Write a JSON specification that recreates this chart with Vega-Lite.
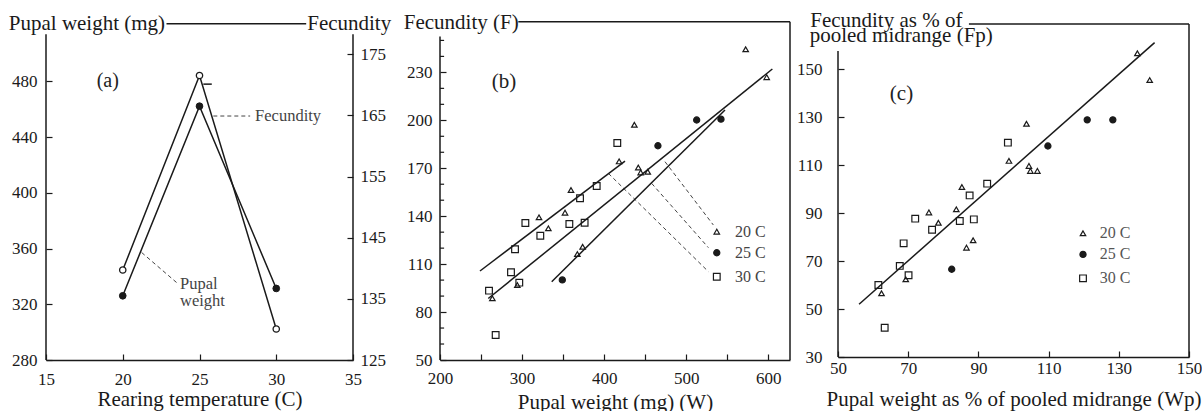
{
  "$schema": "https://vega.github.io/schema/vega-lite/v6.json",
  "background": "white",
  "padding": {"left": 8, "top": 9, "right": 0, "bottom": 0},
  "spacing": 87,
  "bounds": "flush",
  "config": {
    "font": "Liberation Serif",
    "view": {"stroke": null},
    "axis": {
      "grid": false,
      "labelFont": "Liberation Serif",
      "titleFont": "Liberation Serif",
      "labelFontSize": 17,
      "titleFontSize": 21,
      "titleFontWeight": "normal",
      "labelColor": "#1a1a1a",
      "titleColor": "#1a1a1a",
      "domainColor": "#1a1a1a",
      "tickColor": "#1a1a1a",
      "domainWidth": 1.5,
      "tickWidth": 1.2,
      "tickSize": -6,
      "labelOverlap": false,
      "labelFlush": false,
      "labelBound": false
    },
    "text": {"font": "Liberation Serif"}
  },
  "datasets": {
    "a_pts": [
      {"temperature": 20, "pupal_weight": 344.6, "fecundity": 135.5},
      {"temperature": 25, "pupal_weight": 484.3, "fecundity": 166.5},
      {"temperature": 30, "pupal_weight": 302.3, "fecundity": 136.7}
    ],
    "a_frame": [
      {"x": 15, "y": 280, "x2": 15, "y2": 514},
      {"x": 35, "y": 280, "x2": 35, "y2": 514},
      {"x": 22.85, "y": 521.5, "x2": 31.95, "y2": 521.5},
      {"x": 25.25, "y": 478.1, "x2": 25.8, "y2": 478.1}
    ],
    "a_leaders": [
      {"x": 25.9, "y": 455.2, "x2": 28.3, "y2": 455.2},
      {"x": 21.23, "y": 357.2, "x2": 23.51, "y2": 335.6}
    ],
    "a_notes": [
      {"x": 28.62, "y": 455.2, "label": "Fecundity"},
      {"x": 23.73, "y": 334.3, "label": "Pupal"},
      {"x": 23.73, "y": 322.4, "label": "weight"}
    ],
    "a_tag": [{"x": 18.3, "y": 480.7, "label": "(a)"}],
    "b_frame": [
      {"x": 200, "y": 50, "x2": 200, "y2": 252.5},
      {"x": 626.4, "y": 50, "x2": 626.4, "y2": 261.7},
      {"x": 295.4, "y": 261.7, "x2": 626.4, "y2": 261.7}
    ],
    "b_minor_ticks": [
      {"fecundity": 60}, {"fecundity": 70}, {"fecundity": 90}, {"fecundity": 100},
      {"fecundity": 120}, {"fecundity": 130}, {"fecundity": 150}, {"fecundity": 160},
      {"fecundity": 180}, {"fecundity": 190}, {"fecundity": 210}, {"fecundity": 220},
      {"fecundity": 240}, {"fecundity": 250}
    ],
    "b_leaders": [
      {"x": 474.1, "y": 174.1, "x2": 533.0, "y2": 134.5},
      {"x": 457.9, "y": 160.5, "x2": 527.0, "y2": 120.3},
      {"x": 405.1, "y": 166.8, "x2": 527.0, "y2": 105.3}
    ],
    "b_fit": [
      {"group": "20 C", "weight": 258.8, "fecundity": 88.5},
      {"group": "20 C", "weight": 604.9, "fecundity": 232.1},
      {"group": "25 C", "weight": 336.1, "fecundity": 99.0},
      {"group": "25 C", "weight": 547.2, "fecundity": 206.4},
      {"group": "30 C", "weight": 248.7, "fecundity": 105.7},
      {"group": "30 C", "weight": 425.4, "fecundity": 174.5}
    ],
    "b_pts": [
      {"group": "20 C", "weight": 572.4, "fecundity": 244.5},
      {"group": "20 C", "weight": 598.0, "fecundity": 227.0},
      {"group": "20 C", "weight": 436.8, "fecundity": 197.2},
      {"group": "20 C", "weight": 418.2, "fecundity": 174.3},
      {"group": "20 C", "weight": 441.6, "fecundity": 170.5},
      {"group": "20 C", "weight": 444.5, "fecundity": 167.4},
      {"group": "20 C", "weight": 453.1, "fecundity": 167.8},
      {"group": "20 C", "weight": 359.6, "fecundity": 156.4},
      {"group": "20 C", "weight": 352.3, "fecundity": 142.2},
      {"group": "20 C", "weight": 320.6, "fecundity": 139.3},
      {"group": "20 C", "weight": 332.0, "fecundity": 132.4},
      {"group": "20 C", "weight": 373.8, "fecundity": 120.9},
      {"group": "20 C", "weight": 367.3, "fecundity": 116.3},
      {"group": "20 C", "weight": 263.8, "fecundity": 88.6},
      {"group": "20 C", "weight": 294.2, "fecundity": 96.9},
      {"group": "25 C", "weight": 349.0, "fecundity": 100.1},
      {"group": "25 C", "weight": 465.5, "fecundity": 184.1},
      {"group": "25 C", "weight": 512.7, "fecundity": 200.2},
      {"group": "25 C", "weight": 542.3, "fecundity": 200.7},
      {"group": "30 C", "weight": 259.7, "fecundity": 93.4},
      {"group": "30 C", "weight": 267.8, "fecundity": 65.6},
      {"group": "30 C", "weight": 286.5, "fecundity": 104.9},
      {"group": "30 C", "weight": 291.4, "fecundity": 119.3},
      {"group": "30 C", "weight": 296.6, "fecundity": 98.4},
      {"group": "30 C", "weight": 304.0, "fecundity": 135.7},
      {"group": "30 C", "weight": 322.2, "fecundity": 127.8},
      {"group": "30 C", "weight": 357.6, "fecundity": 135.1},
      {"group": "30 C", "weight": 370.6, "fecundity": 151.2},
      {"group": "30 C", "weight": 376.2, "fecundity": 135.9},
      {"group": "30 C", "weight": 390.9, "fecundity": 158.9},
      {"group": "30 C", "weight": 416.0, "fecundity": 185.8}
    ],
    "b_legend": [
      {"group": "20 C", "weight": 537.2, "fecundity": 130.3, "text_x": 559.4},
      {"group": "25 C", "weight": 537.2, "fecundity": 117.1, "text_x": 559.4},
      {"group": "30 C", "weight": 537.2, "fecundity": 102.1, "text_x": 559.4}
    ],
    "b_tag": [{"x": 278, "y": 224.2, "label": "(b)"}],
    "c_frame": [
      {"x": 50, "y": 30, "x2": 50, "y2": 157.6},
      {"x": 150, "y": 30, "x2": 150, "y2": 168.9},
      {"x": 87.3, "y": 168.9, "x2": 150, "y2": 168.9}
    ],
    "c_title2": [{"x": 41.94, "y": 163.9, "label": "pooled midrange (Fp)"}],
    "c_fit": [
      {"wp": 56.0, "fp": 52.0},
      {"wp": 140.2, "fp": 161.1}
    ],
    "c_pts": [
      {"group": "20 C", "wp": 135.3, "fp": 156.7},
      {"group": "20 C", "wp": 138.8, "fp": 145.5},
      {"group": "20 C", "wp": 103.7, "fp": 127.3},
      {"group": "20 C", "wp": 98.7, "fp": 111.8},
      {"group": "20 C", "wp": 104.4, "fp": 109.7},
      {"group": "20 C", "wp": 104.8, "fp": 107.6},
      {"group": "20 C", "wp": 106.8, "fp": 107.6},
      {"group": "20 C", "wp": 85.3, "fp": 100.9},
      {"group": "20 C", "wp": 83.7, "fp": 91.6},
      {"group": "20 C", "wp": 75.9, "fp": 90.3},
      {"group": "20 C", "wp": 78.6, "fp": 86.0},
      {"group": "20 C", "wp": 88.5, "fp": 78.7},
      {"group": "20 C", "wp": 86.6, "fp": 75.6},
      {"group": "20 C", "wp": 69.3, "fp": 62.4},
      {"group": "20 C", "wp": 62.4, "fp": 56.6},
      {"group": "25 C", "wp": 82.4, "fp": 66.6},
      {"group": "25 C", "wp": 109.8, "fp": 118.0},
      {"group": "25 C", "wp": 121.0, "fp": 128.9},
      {"group": "25 C", "wp": 128.3, "fp": 128.9},
      {"group": "30 C", "wp": 63.3, "fp": 42.2},
      {"group": "30 C", "wp": 61.5, "fp": 60.0},
      {"group": "30 C", "wp": 67.6, "fp": 68.0},
      {"group": "30 C", "wp": 70.1, "fp": 64.1},
      {"group": "30 C", "wp": 68.7, "fp": 77.4},
      {"group": "30 C", "wp": 72.0, "fp": 87.7},
      {"group": "30 C", "wp": 76.8, "fp": 83.1},
      {"group": "30 C", "wp": 84.7, "fp": 86.7},
      {"group": "30 C", "wp": 87.5, "fp": 97.4},
      {"group": "30 C", "wp": 88.7, "fp": 87.4},
      {"group": "30 C", "wp": 92.5, "fp": 102.3},
      {"group": "30 C", "wp": 98.4, "fp": 119.4}
    ],
    "c_legend": [
      {"group": "20 C", "wp": 119.8, "fp": 81.6, "text_x": 124.6},
      {"group": "25 C", "wp": 119.8, "fp": 72.8, "text_x": 124.6},
      {"group": "30 C", "wp": 119.8, "fp": 62.8, "text_x": 124.6}
    ],
    "c_tag": [{"x": 68.1, "y": 139.6, "label": "(c)"}]
  },
  "hconcat": [
    {
      "width": 307,
      "height": 337,
      "resolve": {"scale": {"y": "independent"}},
      "layer": [
        {
          "layer": [
            {
              "data": {"name": "a_frame"},
              "mark": {"type": "rule", "color": "#1a1a1a", "strokeWidth": 1.5},
              "encoding": {
                "x": {"field": "x", "type": "quantitative", "scale": {"domain": [15, 35], "nice": false, "zero": false},
                  "axis": {"labelOverlap": false, "labelFlush": false, "values": [15, 17.5, 20, 22.5, 25, 27.5, 30, 32.5, 35], "labelExpr": "datum.value % 5 === 0 ? datum.label : ''", "labelFontSize": {"condition": {"test": "datum.value % 5 === 0", "value": 17}, "value": 1}, "title": "Rearing temperature (C)", "titleY": 39.3, "titleBaseline": "middle", "labelPadding": 17.5}},
                "y": {"field": "y", "type": "quantitative", "scale": {"domain": [280, 522], "nice": false, "zero": false},
                  "axis": {"labelOverlap": false, "orient": "left", "domain": false, "values": [280, 300, 320, 340, 360, 380, 400, 420, 440, 460, 480, 500], "labelExpr": "(datum.value - 280) % 40 === 0 ? datum.label : ''", "labelFontSize": {"condition": {"test": "(datum.value - 280) % 40 === 0", "value": 17}, "value": 1}, "title": "Pupal weight (mg)", "titleAngle": 0, "titleAlign": "left", "titleBaseline": "middle", "titleX": -37.7, "titleY": 0.5, "labelPadding": 15}},
                "x2": {"field": "x2"},
                "y2": {"field": "y2"}
              }
            },
            {
              "data": {"name": "a_leaders"},
              "mark": {"type": "rule", "color": "#444", "strokeWidth": 1, "strokeDash": [4, 3]},
              "encoding": {
                "x": {"field": "x", "type": "quantitative", "scale": {"domain": [15, 35]}},
                "y": {"field": "y", "type": "quantitative", "scale": {"domain": [280, 522]}},
                "x2": {"field": "x2"},
                "y2": {"field": "y2"}
              }
            },
            {
              "data": {"name": "a_notes"},
              "mark": {"type": "text", "align": "left", "baseline": "middle", "fontSize": 16.5, "color": "#444"},
              "encoding": {
                "x": {"field": "x", "type": "quantitative", "scale": {"domain": [15, 35]}},
                "y": {"field": "y", "type": "quantitative", "scale": {"domain": [280, 522]}},
                "text": {"field": "label"}
              }
            },
            {
              "data": {"name": "a_tag"},
              "mark": {"type": "text", "align": "left", "baseline": "middle", "fontSize": 20, "color": "#222"},
              "encoding": {
                "x": {"field": "x", "type": "quantitative", "scale": {"domain": [15, 35]}},
                "y": {"field": "y", "type": "quantitative", "scale": {"domain": [280, 522]}},
                "text": {"field": "label"}
              }
            },
            {
              "data": {"name": "a_pts"},
              "mark": {"type": "line", "color": "#1a1a1a", "strokeWidth": 1.5},
              "encoding": {
                "x": {"field": "temperature", "type": "quantitative", "scale": {"domain": [15, 35]}},
                "y": {"field": "pupal_weight", "type": "quantitative", "scale": {"domain": [280, 522]}}
              }
            },
            {
              "data": {"name": "a_pts"},
              "mark": {"type": "point", "shape": "circle", "filled": true, "fill": "white", "stroke": "#1a1a1a", "strokeWidth": 1.3, "size": 40, "opacity": 1},
              "encoding": {
                "x": {"field": "temperature", "type": "quantitative", "scale": {"domain": [15, 35]}},
                "y": {"field": "pupal_weight", "type": "quantitative", "scale": {"domain": [280, 522]}}
              }
            }
          ]
        },
        {
          "layer": [
            {
              "data": {"name": "a_pts"},
              "mark": {"type": "line", "color": "#1a1a1a", "strokeWidth": 1.5},
              "encoding": {
                "x": {"field": "temperature", "type": "quantitative", "scale": {"domain": [15, 35]}},
                "y": {"field": "fecundity", "type": "quantitative", "scale": {"domain": [125, 180.1], "nice": false, "zero": false},
                  "axis": {"labelOverlap": false, "orient": "right", "domain": false, "values": [125, 130, 135, 140, 145, 150, 155, 160, 165, 170, 175], "labelExpr": "(datum.value - 125) % 10 === 0 ? datum.label : ''", "labelFontSize": {"condition": {"test": "(datum.value - 125) % 10 === 0", "value": 17}, "value": 1}, "title": "Fecundity", "titleAngle": 0, "titleAlign": "left", "titleBaseline": "middle", "titleX": -46.3, "titleY": 0.5, "labelPadding": 13}}
              }
            },
            {
              "data": {"name": "a_pts"},
              "mark": {"type": "point", "shape": "circle", "filled": true, "fill": "#1a1a1a", "stroke": "#1a1a1a", "strokeWidth": 1, "size": 45, "opacity": 1},
              "encoding": {
                "x": {"field": "temperature", "type": "quantitative", "scale": {"domain": [15, 35]}},
                "y": {"field": "fecundity", "type": "quantitative", "scale": {"domain": [125, 180.1], "nice": false, "zero": false}}
              }
            }
          ]
        }
      ]
    },
    {
      "spacing": 48,
      "bounds": "flush",
      "hconcat": [
        {
          "width": 350,
          "height": 337,
          "layer": [
            {
              "data": {"name": "b_frame"},
              "mark": {"type": "rule", "color": "#1a1a1a", "strokeWidth": 1.5},
              "encoding": {
                "x": {"field": "x", "type": "quantitative", "scale": {"domain": [200, 626.4], "nice": false, "zero": false},
                  "axis": {"labelOverlap": false, "labelFlush": false, "values": [200, 250, 300, 350, 400, 450, 500, 550, 600], "labelExpr": "datum.value % 100 === 0 ? datum.label : ''", "labelFontSize": {"condition": {"test": "datum.value % 100 === 0", "value": 17}, "value": 1}, "title": "Pupal weight (mg) (W)", "titleY": 42, "titleBaseline": "middle", "labelPadding": 16}},
                "y": {"field": "y", "type": "quantitative", "scale": {"domain": [50, 260.9], "nice": false, "zero": false},
                  "axis": {"labelOverlap": false, "orient": "left", "domain": false, "values": [50, 80, 110, 140, 170, 200, 230], "title": "Fecundity (F)", "titleAngle": 0, "titleAlign": "left", "titleBaseline": "middle", "titleX": -36.7, "titleY": -0.5, "labelPadding": 14}},
                "x2": {"field": "x2"},
                "y2": {"field": "y2"}
              }
            },
            {
              "data": {"name": "b_minor_ticks"},
              "mark": {"type": "rule", "color": "#1a1a1a", "strokeWidth": 1.2},
              "encoding": {
                "x": {"datum": 200, "type": "quantitative"},
                "x2": {"datum": 205},
                "y": {"field": "fecundity", "type": "quantitative"}
              }
            },
            {
              "data": {"name": "b_leaders"},
              "mark": {"type": "rule", "color": "#444", "strokeWidth": 1, "strokeDash": [4, 3]},
              "encoding": {
                "x": {"field": "x", "type": "quantitative"},
                "y": {"field": "y", "type": "quantitative"},
                "x2": {"field": "x2"},
                "y2": {"field": "y2"}
              }
            },
            {
              "data": {"name": "b_fit"},
              "mark": {"type": "line", "color": "#1a1a1a", "strokeWidth": 1.5},
              "encoding": {
                "x": {"field": "weight", "type": "quantitative"},
                "y": {"field": "fecundity", "type": "quantitative"},
                "detail": {"field": "group"}
              }
            },
            {
              "data": {"name": "b_pts"},
              "mark": {"type": "point", "filled": true, "stroke": "#1a1a1a", "strokeWidth": 1.2, "opacity": 1},
              "encoding": {
                "x": {"field": "weight", "type": "quantitative"},
                "y": {"field": "fecundity", "type": "quantitative"},
                "shape": {"field": "group", "type": "nominal", "scale": {"domain": ["20 C", "25 C", "30 C"], "range": ["triangle-up", "circle", "square"]}, "legend": null},
                "fill": {"field": "group", "type": "nominal", "scale": {"domain": ["20 C", "25 C", "30 C"], "range": ["transparent", "#1a1a1a", "transparent"]}, "legend": null},
                "size": {"field": "group", "type": "nominal", "scale": {"domain": ["20 C", "25 C", "30 C"], "range": [30, 45, 45]}, "legend": null}
              }
            },
            {
              "data": {"name": "b_legend"},
              "mark": {"type": "point", "filled": true, "stroke": "#1a1a1a", "strokeWidth": 1.2, "opacity": 1},
              "encoding": {
                "x": {"field": "weight", "type": "quantitative"},
                "y": {"field": "fecundity", "type": "quantitative"},
                "shape": {"field": "group", "type": "nominal", "scale": {"domain": ["20 C", "25 C", "30 C"], "range": ["triangle-up", "circle", "square"]}, "legend": null},
                "fill": {"field": "group", "type": "nominal", "scale": {"domain": ["20 C", "25 C", "30 C"], "range": ["transparent", "#1a1a1a", "transparent"]}, "legend": null},
                "size": {"field": "group", "type": "nominal", "scale": {"domain": ["20 C", "25 C", "30 C"], "range": [30, 45, 45]}, "legend": null}
              }
            },
            {
              "data": {"name": "b_legend"},
              "mark": {"type": "text", "align": "left", "baseline": "middle", "fontSize": 16, "color": "#444"},
              "encoding": {
                "x": {"field": "text_x", "type": "quantitative"},
                "y": {"field": "fecundity", "type": "quantitative"},
                "text": {"field": "group"}
              }
            },
            {
              "data": {"name": "b_tag"},
              "mark": {"type": "text", "align": "center", "baseline": "middle", "fontSize": 21, "color": "#222"},
              "encoding": {
                "x": {"field": "x", "type": "quantitative"},
                "y": {"field": "y", "type": "quantitative"},
                "text": {"field": "label"}
              }
            }
          ]
        },
        {
          "width": 351,
          "height": 334,
          "layer": [
            {
              "data": {"name": "c_frame"},
              "mark": {"type": "rule", "color": "#1a1a1a", "strokeWidth": 1.5},
              "encoding": {
                "x": {"field": "x", "type": "quantitative", "scale": {"domain": [50, 150], "nice": false, "zero": false},
                  "axis": {"labelOverlap": false, "labelFlush": false, "values": [50, 60, 70, 80, 90, 100, 110, 120, 130, 140, 150], "labelExpr": "(datum.value - 50) % 20 === 0 ? datum.label : ''", "labelFontSize": {"condition": {"test": "(datum.value - 50) % 20 === 0", "value": 17}, "value": 1}, "title": "Pupal weight as % of pooled midrange (Wp)", "titleY": 42.3, "titleBaseline": "middle", "labelPadding": 9}},
                "y": {"field": "y", "type": "quantitative", "scale": {"domain": [30, 169.3], "nice": false, "zero": false},
                  "axis": {"labelOverlap": false, "orient": "left", "domain": false, "values": [30, 40, 50, 60, 70, 80, 90, 100, 110, 120, 130, 140, 150], "labelExpr": "(datum.value - 30) % 20 === 0 ? datum.label : ''", "labelFontSize": {"condition": {"test": "(datum.value - 30) % 20 === 0", "value": 17}, "value": 1}, "title": "Fecundity as % of", "titleAngle": 0, "titleAlign": "left", "titleBaseline": "middle", "titleX": -28.3, "titleY": -3, "labelPadding": 22}},
                "x2": {"field": "x2"},
                "y2": {"field": "y2"}
              }
            },
            {
              "data": {"name": "c_title2"},
              "mark": {"type": "text", "align": "left", "baseline": "middle", "fontSize": 21, "color": "#1a1a1a"},
              "encoding": {
                "x": {"field": "x", "type": "quantitative"},
                "y": {"field": "y", "type": "quantitative"},
                "text": {"field": "label"}
              }
            },
            {
              "data": {"name": "c_fit"},
              "mark": {"type": "line", "color": "#1a1a1a", "strokeWidth": 1.5},
              "encoding": {
                "x": {"field": "wp", "type": "quantitative"},
                "y": {"field": "fp", "type": "quantitative"}
              }
            },
            {
              "data": {"name": "c_pts"},
              "mark": {"type": "point", "filled": true, "stroke": "#1a1a1a", "strokeWidth": 1.2, "opacity": 1},
              "encoding": {
                "x": {"field": "wp", "type": "quantitative"},
                "y": {"field": "fp", "type": "quantitative"},
                "shape": {"field": "group", "type": "nominal", "scale": {"domain": ["20 C", "25 C", "30 C"], "range": ["triangle-up", "circle", "square"]}, "legend": null},
                "fill": {"field": "group", "type": "nominal", "scale": {"domain": ["20 C", "25 C", "30 C"], "range": ["transparent", "#1a1a1a", "transparent"]}, "legend": null},
                "size": {"field": "group", "type": "nominal", "scale": {"domain": ["20 C", "25 C", "30 C"], "range": [26, 45, 40]}, "legend": null}
              }
            },
            {
              "data": {"name": "c_legend"},
              "mark": {"type": "point", "filled": true, "stroke": "#1a1a1a", "strokeWidth": 1.2, "opacity": 1},
              "encoding": {
                "x": {"field": "wp", "type": "quantitative"},
                "y": {"field": "fp", "type": "quantitative"},
                "shape": {"field": "group", "type": "nominal", "scale": {"domain": ["20 C", "25 C", "30 C"], "range": ["triangle-up", "circle", "square"]}, "legend": null},
                "fill": {"field": "group", "type": "nominal", "scale": {"domain": ["20 C", "25 C", "30 C"], "range": ["transparent", "#1a1a1a", "transparent"]}, "legend": null},
                "size": {"field": "group", "type": "nominal", "scale": {"domain": ["20 C", "25 C", "30 C"], "range": [26, 45, 40]}, "legend": null}
              }
            },
            {
              "data": {"name": "c_legend"},
              "mark": {"type": "text", "align": "left", "baseline": "middle", "fontSize": 16, "color": "#555"},
              "encoding": {
                "x": {"field": "text_x", "type": "quantitative"},
                "y": {"field": "fp", "type": "quantitative"},
                "text": {"field": "group"}
              }
            },
            {
              "data": {"name": "c_tag"},
              "mark": {"type": "text", "align": "center", "baseline": "middle", "fontSize": 21, "color": "#222"},
              "encoding": {
                "x": {"field": "x", "type": "quantitative"},
                "y": {"field": "y", "type": "quantitative"},
                "text": {"field": "label"}
              }
            }
          ]
        }
      ]
    }
  ]
}
